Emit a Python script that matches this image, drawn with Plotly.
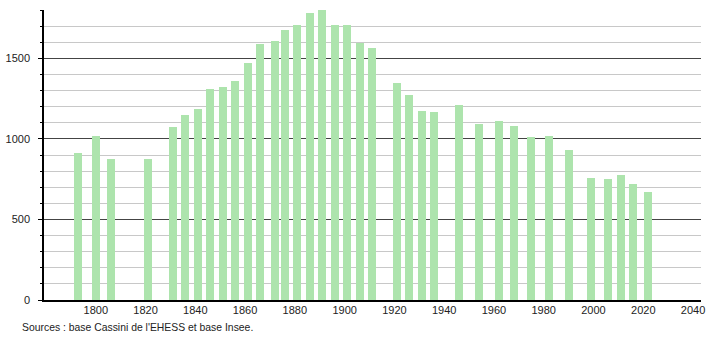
import plotly.graph_objects as go

years = [1793, 1800, 1806, 1821, 1831, 1836, 1841, 1846, 1851, 1856, 1861, 1866,
         1872, 1876, 1881, 1886, 1891, 1896, 1901, 1906, 1911, 1921, 1926, 1931,
         1936, 1946, 1954, 1962, 1968, 1975, 1982, 1990, 1999, 2006, 2011, 2016, 2022]
population = [915, 1020, 877, 875, 1072, 1151, 1184, 1309, 1325, 1357, 1473, 1589,
              1605, 1674, 1707, 1780, 1797, 1705, 1705, 1597, 1562, 1348, 1274, 1175,
              1164, 1213, 1091, 1108, 1078, 1010, 1020, 933, 759, 753, 778, 722, 672]
x_ticks = [1800, 1820, 1840, 1860, 1880, 1900, 1920, 1940, 1960, 1980, 2000, 2020, 2040]
y_ticks = [0, 500, 1000, 1500]
source_text = "Sources : base Cassini de l'EHESS et base Insee."

W, H = 710, 340
ml, mr, mt, mb = 44, 9, 10, 40
pw, ph = W - ml - mr, H - mt - mb

fig = go.Figure()
fig.add_trace(go.Bar(
    x=years, y=population, width=3.2,
    marker=dict(color="#ade4ad", line=dict(width=0)),
    hoverinfo="x+y",
))

fig.update_layout(
    width=W, height=H,
    margin=dict(l=ml, r=mr, t=mt, b=mb, pad=0, autoexpand=False),
    paper_bgcolor="white", plot_bgcolor="white",
    showlegend=False,
    font=dict(family="Liberation Sans, Arial, sans-serif", size=11, color="#222"),
    bargap=0,
    xaxis=dict(
        range=[1779.2, 2043.2], automargin=False,
        tickvals=x_ticks, ticktext=[str(v) for v in x_ticks],
        showgrid=False, zeroline=False,
        showline=True, linecolor="#000", linewidth=1.5,
        ticks="", ticklabelstandoff=-1,
        tickfont=dict(size=11, color="#222"),
    ),
    yaxis=dict(
        range=[0, 1800], automargin=False,
        tickvals=y_ticks, ticktext=[str(v) for v in y_ticks],
        showgrid=True, gridcolor="#444", gridwidth=1,
        zeroline=False,
        showline=True, linecolor="#000", linewidth=1.5,
        ticks="outside", ticklen=4, tickcolor="#000", tickwidth=1,
        ticklabelstandoff=6,
        tickfont=dict(size=11, color="#222"),
        minor=dict(dtick=100, tick0=0, ticks="outside", ticklen=2, tickcolor="#000",
                   showgrid=True, gridcolor="#c8c8c8", gridwidth=1),
    ),
)

fig.add_annotation(
    text=source_text, xref="paper", yref="paper",
    x=(20 - ml) / pw, y=-(327 - (mt + ph)) / ph,
    xanchor="left", yanchor="middle", showarrow=False,
    font=dict(size=10.4, color="#222"),
)

fig.write_html("out.html")
